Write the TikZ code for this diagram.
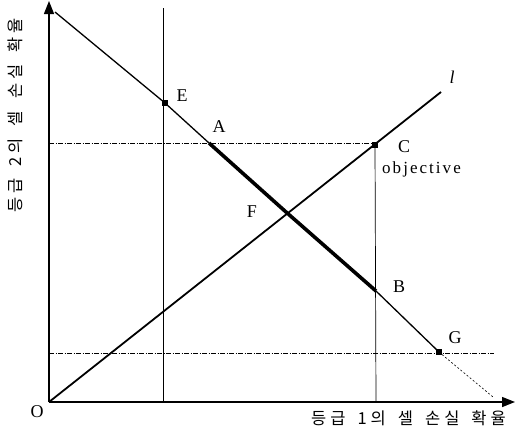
\documentclass[tikz,border=0pt]{standalone}
\usepackage{fontspec}
\setmainfont{Liberation Serif}
\newfontfamily\kr{Noto Sans CJK KR}
\usetikzlibrary{arrows.meta}
\newcommand{\kw}{\hspace{4pt}}
\newcommand{\ks}{\hspace{12pt}}
\begin{document}
\begin{tikzpicture}[x=1pt,y=-1pt,
  axis/.style={line width=1.4pt,-{Triangle[length=13pt,width=10pt]}},
  guide/.style={line width=0.45pt,dash pattern=on 5pt off 1.5pt on 1pt off 1.5pt},
  vline/.style={line width=0.7pt},
  thinline/.style={line width=1.3pt},
  thickline/.style={line width=3.6pt},
  lline/.style={line width=1.8pt},
  dotline/.style={line width=0.6pt,dash pattern=on 2pt off 2pt},
  sq/.style={fill=black,inner sep=0pt,minimum size=5.5pt,rectangle},
  lab/.style={font=\fontsize{18}{18}\selectfont,inner sep=0pt},
  krlab/.style={font=\kr\fontsize{16.5}{16.5}\selectfont,inner sep=0pt}
]
\useasboundingbox (0,0) rectangle (516,432);
\fill[white] (0,0) rectangle (516,432);
% coordinates
\coordinate (O) at (49,402);
\coordinate (Ytop) at (49,1);
\coordinate (Xend) at (515,402);
\coordinate (P0) at (55,12);
\coordinate (E) at (165,103);
\coordinate (A) at (209,143);
\coordinate (F) at (286,212);
\coordinate (B) at (376,291);
\coordinate (G) at (439,352);
\coordinate (Gend) at (493,397);
\coordinate (C) at (375,145);
\coordinate (Lend) at (441,92);
\coordinate (V1t) at (163,8);
\coordinate (V1b) at (163,402);
\coordinate (V2b) at (376,402);
\coordinate (H1a) at (49,143);
\coordinate (H1b) at (376,143);
\coordinate (H2a) at (49,353);
\coordinate (H2b) at (494,353);
% guides
\draw[vline] (V1t) -- (V1b);
\draw[vline] (C) -- (V2b);
\draw[guide] (H1a) -- (H1b);
\draw[guide] (H2a) -- (H2b);
% axes
\draw[axis] (O) -- (Ytop);
\draw[axis] (O) -- (Xend);
% lines
\draw[lline] (O) -- (Lend);
\draw[thinline] (P0) -- (E) -- (A);
\draw[thickline] (A) -- (F) -- (B);
\draw[thinline] (B) -- (G);
\draw[dotline] (G) -- (Gend);
% markers
\node[sq] (mE) at (E) {};
\node[sq] (mC) at (C) {};
\node[sq] (mG) at (G) {};
% labels
\node[lab] (tO) at (37,412) {O};
\node[lab] (tE) at (182,96) {E};
\node[lab] (tA) at (219,127) {A};
\node[lab] (tF) at (252,212) {F};
\node[lab] (tB) at (399,287) {B};
\node[lab] (tG) at (455,338) {G};
\node[lab] (tC) at (404,147) {C};
\node[lab,anchor=west,font=\fontsize{17}{17}\selectfont] (tobj) at (382,169) {\addfontfeature{LetterSpace=12}objective};
\node[lab] (tl) at (452,77) {\textit{l}};
\node[krlab,anchor=east] (tx) at (506,418) {등\kw 급\ks 1\kw 의\ks 셀\ks 손\kw 실\ks 확\kw 율};
\node[krlab,rotate=90,anchor=east] (ty) at (15,18) {등\kw 급\ks 2\kw 의\ks 셀\ks 손\kw 실\ks 확\kw 율};
\end{tikzpicture}
\end{document}
